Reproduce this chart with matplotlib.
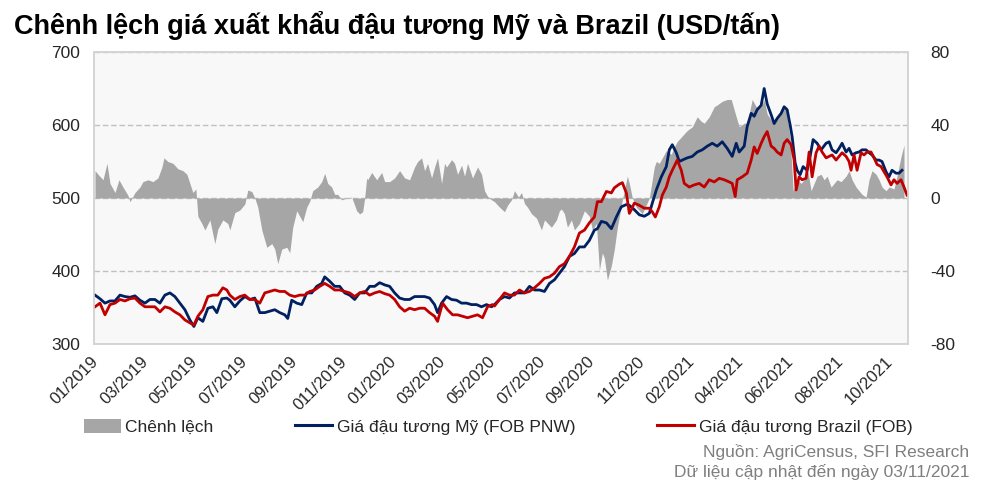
import numpy as np
import matplotlib
matplotlib.use("Agg")
import matplotlib.pyplot as plt
from matplotlib.patches import Patch
from matplotlib.lines import Line2D

plt.rcParams['font.family'] = ['Liberation Sans', 'DejaVu Sans']
plt.rcParams['axes.unicode_minus'] = False

TITLE = "Chênh lệch giá xuất khẩu đậu tương Mỹ và Brazil (USD/tấn)"
SOURCE_1 = "Nguồn: AgriCensus, SFI Research"
SOURCE_2 = "Dữ liệu cập nhật đến ngày 03/11/2021"
LEGEND_LABELS = ["Chênh lệch", "Giá đậu tương Mỹ (FOB PNW)", "Giá đậu tương Brazil (FOB)"]

X_LABELS = ["01/2019", "03/2019", "05/2019", "07/2019", "09/2019", "011/2019",
            "01/2020", "03/2020", "05/2020", "07/2020", "09/2020", "11/2020",
            "02/2021", "04/2021", "06/2021", "08/2021", "10/2021"]

# observation index (trading-day order along the category axis)
us_t = [1, 6, 11, 16, 21, 26, 31, 36, 41, 46, 51, 56, 61, 66, 71, 76, 81, 86, 91, 96, 100, 104, 109,
        114, 119, 123, 128, 133, 136, 141, 146, 151, 156, 161, 166, 171, 176, 181, 186, 191, 194, 198,
        203, 208, 213, 218, 223, 228, 231, 236, 241, 246, 251, 256, 261, 266, 271, 276, 281, 286, 291,
        296, 301, 306, 311, 316, 321, 326, 331, 336, 341, 344, 348, 353, 358, 363, 368, 373, 378, 383,
        388, 393, 398, 401, 406, 411, 416, 421, 426, 431, 436, 441, 446, 451, 456, 461, 466, 471, 476,
        481, 486, 491, 496, 501, 504, 508, 513, 518, 523, 528, 533, 536, 541, 546, 551, 556, 559, 563,
        568, 573, 576, 579, 583, 586, 589, 594, 599, 604, 609, 614, 619, 624, 629, 634, 639, 643, 646,
        651, 654, 658, 661, 664, 668, 671, 674, 678, 681, 684, 688, 691, 694, 697, 699, 702, 704, 707,
        710, 714, 717, 720, 724, 728, 733, 736, 739, 743, 746, 749, 753, 756, 759, 763, 766, 769, 773,
        776, 779, 783, 786, 789, 793, 796, 799, 803, 806, 809, 813]
us_price = [367, 362, 356, 359, 359, 367, 365, 364, 366, 360, 356, 361, 361, 356, 367, 370, 365, 356,
            347, 333, 324, 336, 331, 349, 351, 343, 362, 363, 360, 351, 359, 365, 361, 363, 343, 343,
            345, 347, 343, 340, 335, 360, 356, 354, 370, 370, 379, 383, 392, 386, 379, 379, 370, 367,
            361, 370, 370, 379, 379, 384, 381, 379, 370, 363, 361, 361, 365, 365, 365, 363, 354, 343,
            356, 365, 361, 360, 356, 356, 354, 354, 351, 354, 351, 354, 361, 365, 363, 370, 370, 370,
            379, 374, 374, 372, 383, 388, 397, 406, 420, 424, 433, 433, 442, 456, 458, 468, 466, 458,
            474, 488, 491, 490, 484, 477, 475, 479, 493, 511, 529, 543, 566, 573, 562, 550, 552, 555,
            557, 563, 566, 571, 575, 571, 577, 568, 557, 575, 563, 571, 598, 616, 612, 621, 627, 650,
            629, 614, 602, 609, 616, 625, 621, 600, 584, 548, 538, 532, 543, 538, 557, 580, 575, 566,
            575, 577, 566, 562, 568, 575, 563, 568, 559, 562, 563, 566, 566, 562, 559, 552, 552, 550,
            536, 529, 538, 534, 534, 538]

br_t = [1, 6, 11, 16, 21, 26, 31, 36, 41, 46, 51, 56, 61, 66, 71, 76, 81, 86, 91, 96, 100, 104, 109,
        114, 119, 124, 129, 133, 136, 141, 146, 151, 156, 161, 166, 171, 176, 181, 186, 191, 196, 201,
        206, 211, 216, 221, 226, 231, 236, 241, 246, 251, 256, 261, 266, 271, 276, 281, 286, 291, 296,
        301, 306, 311, 316, 321, 326, 331, 336, 341, 344, 349, 354, 359, 364, 369, 374, 379, 384, 389,
        394, 399, 401, 406, 411, 416, 421, 426, 431, 436, 441, 446, 451, 456, 461, 466, 471, 476, 481,
        486, 491, 496, 501, 504, 508, 513, 518, 521, 526, 529, 533, 536, 538, 541, 546, 551, 556, 559,
        562, 566, 569, 573, 576, 579, 584, 588, 591, 596, 601, 606, 611, 616, 621, 626, 631, 636, 639,
        642, 644, 649, 654, 658, 661, 664, 668, 671, 674, 678, 681, 684, 688, 691, 694, 698, 701, 703,
        706, 709, 713, 716, 719, 723, 726, 729, 733, 736, 739, 743, 746, 749, 753, 756, 758, 761, 764,
        768, 771, 774, 778, 781, 784, 788, 791, 794, 798, 801, 804, 808, 811, 814]
br_price = [351, 356, 340, 354, 356, 361, 359, 362, 363, 356, 351, 351, 351, 344, 351, 349, 344, 340,
            333, 329, 326, 338, 347, 365, 367, 367, 377, 374, 367, 361, 365, 367, 361, 361, 356, 370,
            372, 374, 372, 372, 367, 365, 367, 367, 372, 374, 379, 383, 379, 374, 374, 372, 370, 365,
            370, 372, 367, 370, 372, 369, 367, 361, 351, 345, 349, 347, 349, 349, 343, 338, 331, 356,
            347, 340, 340, 338, 336, 338, 340, 336, 351, 354, 352, 361, 370, 367, 367, 374, 370, 372,
            377, 383, 390, 392, 397, 406, 410, 420, 433, 452, 456, 466, 474, 495, 495, 509, 507, 514,
            519, 521, 507, 479, 484, 493, 490, 486, 486, 481, 474, 488, 504, 515, 529, 538, 552, 538,
            520, 515, 518, 520, 515, 525, 522, 527, 525, 522, 520, 502, 525, 529, 534, 552, 570, 561,
            575, 584, 591, 571, 568, 563, 559, 575, 580, 573, 552, 511, 529, 525, 527, 563, 529, 562,
            571, 563, 555, 557, 559, 552, 557, 562, 557, 550, 538, 559, 538, 562, 559, 563, 563, 555,
            546, 543, 536, 529, 518, 525, 520, 525, 515, 504]

spread_t = [1, 4, 9, 13, 16, 21, 25, 29, 34, 36, 41, 46, 49, 54, 59, 64, 68, 70, 74, 79, 84, 89, 93,
            96, 99, 102, 104, 108, 111, 116, 121, 124, 129, 134, 136, 141, 146, 151, 154, 158, 161,
            164, 168, 173, 178, 181, 184, 188, 193, 196, 199, 203, 206, 209, 213, 216, 219, 224, 228,
            231, 234, 238, 241, 244, 248, 253, 258, 263, 266, 269, 271, 273, 274, 278, 283, 288, 291,
            296, 301, 306, 311, 316, 321, 324, 328, 331, 334, 338, 341, 344, 348, 351, 353, 358, 361,
            364, 368, 371, 374, 379, 384, 388, 391, 394, 398, 401, 406, 411, 414, 418, 421, 425, 428,
            431, 434, 438, 443, 448, 451, 458, 463, 466, 468, 471, 474, 478, 481, 486, 491, 496, 499,
            503, 506, 509, 511, 514, 518, 521, 524, 529, 534, 536, 539, 543, 549, 556, 561, 563, 566,
            569, 573, 578, 581, 584, 589, 594, 599, 604, 608, 611, 616, 621, 624, 629, 634, 638, 643,
            646, 651, 654, 659, 663, 668, 671, 674, 679, 684, 689, 693, 697, 700, 704, 708, 711, 714,
            718, 721, 724, 728, 731, 734, 738, 741, 744, 748, 753, 756, 759, 763, 766, 769, 773, 776,
            779, 783, 786, 789, 793, 796, 801, 804, 808, 811, 814]
spread_val = [15, 13, 10, 19, 8, 3, 10, 6, 1.5, -2, 3, 6, 9, 10, 9, 11, 17, 22, 20, 19, 16, 15, 13, 8,
              3, 5, -10, -14, -17.5, -12, -25, -17, -12, -14, -17.5, -8, -6.6, -3.3, 4.4, 3.5, 0, -5,
              -17.5, -27, -25, -28, -36, -28, -27, -30, -16, -7, -10, -13, -5, -1.8, 4, 6, 9, 13.5, 8,
              6, 2, 2, -1, 0, 0.5, -7, -8.7, -7.5, 0, 11, 10, 14, 10, 14, 9, 9, 11, 15, 11, 10, 17,
              20, 22, 15, 19, 11, 17, 22, 8, 19, 17, 21, 19, 13, 18, 12, 19, 11, 17, 13, 4, 1, -1, -2,
              -5, -7.5, -4, -1, 4, 0.5, 3, -3, -5, -8.6, -11, -17.5, -12, -16, -12, -7, -6, -8.6,
              -16, -12, -17.5, -14, -7, -10, -17.5, -14, -39.5, -30, -33, -45, -37, -28, -16, -1, 12,
              8, 0, -5, -8.6, 0, 17, 20, 19, 22, 26, 24, 28, 31, 34, 37, 39, 44.5, 42, 41, 44.5, 50,
              51, 53, 54, 54, 44.5, 39, 41, 41, 54, 50, 50, 54, 46, 42, 44, 50, 48, 33, 4, 10, 8, 10,
              17, 4, 8, 12, 13, 10, 12, 6, 8, 10, 9, 12, 15, 10, 6, 4, 2, 0.5, 10, 15, 13, 10, 6, 4,
              6, 5, 12, 22.6, 29]

n = min(len(us_t), len(us_price)); us_t, us_price = us_t[:n], us_price[:n]
n = min(len(br_t), len(br_price)); br_t, br_price = br_t[:n], br_price[:n]
n = min(len(spread_t), len(spread_val)); spread_t, spread_val = spread_t[:n], spread_val[:n]

GRAY = "#a6a6a6"
BLUE = "#002060"
RED = "#c00000"
TXT = "#262626"

fig = plt.figure(figsize=(10, 4.93), dpi=100)
fig.patch.set_facecolor("white")

rect = [0.094, 0.3022, 0.814, 0.5923]
ax2 = fig.add_axes(rect)                 # back: spread (right scale)
ax1 = fig.add_axes(rect, sharex=ax2)     # front: prices (left scale)
ax1.set_zorder(3)
ax2.set_zorder(1)
ax1.patch.set_visible(False)
ax2.set_facecolor("#f8f8f8")

ax2.fill_between(spread_t, spread_val, 0, color=GRAY, linewidth=0, zorder=2)
ax2.set_ylim(-80, 80)
ax2.set_yticks([-80, -40, 0, 40, 80])
ax2.yaxis.tick_right()
ax2.grid(axis="y", color="#c0c0c0", linestyle=(0, (4, 2)), linewidth=1.0, zorder=1)
ax2.set_axisbelow(True)

ax1.plot(us_t, us_price, color=BLUE, linewidth=2.0)
ax1.plot(br_t, br_price, color=RED, linewidth=2.0)
ax1.set_ylim(300, 700)
ax1.set_yticks([300, 400, 500, 600, 700])
ax1.yaxis.tick_left()

ax1.set_xlim(0, 815)
tick_pos = np.linspace(2, 797, len(X_LABELS))
ax1.set_xticks(tick_pos)
ax1.set_xticklabels(X_LABELS, rotation=45, ha="right", va="center",
                    rotation_mode="anchor", fontsize=12, color=TXT)
ax2.tick_params(axis="x", labelbottom=False, length=0)

ax1.tick_params(axis="x", length=0, pad=11)
ax1.tick_params(axis="y", length=0, pad=10, labelsize=12.5, colors=TXT)
ax2.tick_params(axis="y", length=0, pad=16, labelsize=12.5, colors=TXT)

for ax in (ax1, ax2):
    for s in ax.spines.values():
        s.set_color("#d4d4d4")
        s.set_linewidth(1.2)

fig.text(0.014, 0.978, TITLE, fontsize=19.5, fontweight="bold", va="top", ha="left", color="#000000")

handles = [Patch(facecolor=GRAY, edgecolor="none"),
           Line2D([0], [0], color=BLUE, linewidth=2.2),
           Line2D([0], [0], color=RED, linewidth=2.2)]
fig.legend(handles, LEGEND_LABELS, loc="center left", bbox_to_anchor=(0.068, 0.134),
           ncol=3, frameon=False, fontsize=12.5, handlelength=2.15, handleheight=0.9,
           handletextpad=0.25, columnspacing=4.7, labelcolor=TXT)

fig.text(0.969, 0.083, SOURCE_1, fontsize=12.5, color="#7f7f7f", ha="right", va="center")
fig.text(0.969, 0.042, SOURCE_2, fontsize=12.5, color="#7f7f7f", ha="right", va="center")

fig.savefig("out.png", dpi=100)
